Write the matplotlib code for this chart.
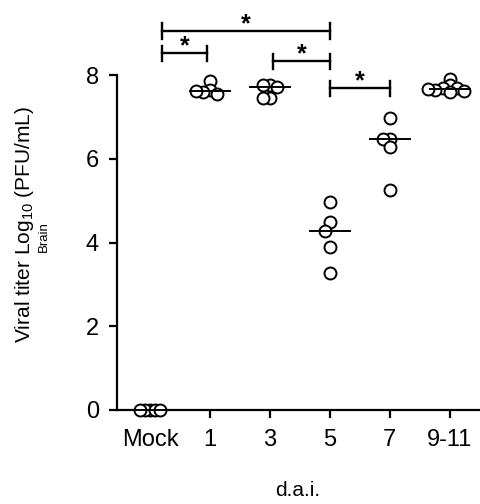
import numpy as np
import matplotlib
matplotlib.use("Agg")
import matplotlib.pyplot as plt

plt.rcParams['font.family'] = ['Liberation Sans', 'DejaVu Sans']
plt.rcParams['mathtext.fontset'] = 'custom'
plt.rcParams['mathtext.rm'] = 'Liberation Sans'
plt.rcParams['mathtext.it'] = 'Liberation Sans:italic'

groups = ['Mock', '1', '3', '5', '7', '9-11']
mock = [0, 0, 0, 0, 0]
day1 = [7.85, 7.65, 7.6, 7.55, 7.62]
day3 = [7.75, 7.75, 7.72, 7.45, 7.45]
day5 = [4.96, 4.49, 4.27, 3.89, 3.27]
day7 = [6.97, 6.47, 6.47, 6.28, 5.25]
day9 = [7.9, 7.75, 7.7, 7.68, 7.65, 7.6, 7.62, 7.66]
values = [mock, day1, day3, day5, day7, day9]

# significance brackets: (left group, right group, level)
brackets = [(0, 1, 8.52), (0, 3, 9.05), (2, 3, 8.33), (3, 4, 7.68)]

PX_X = 60.0   # pixels per x unit
PX_Y = 41.9   # pixels per y unit


def swarm(vals, dmin, step=0.04):
    placed = []
    for v in vals:
        k = 0
        while True:
            off = ((k + 1) // 2) * step * (-1 if k % 2 else 1) if k else 0.0
            ok = all(np.hypot((off - o) * PX_X, (v - w) * PX_Y) >= dmin for o, w in placed)
            if ok:
                break
            k += 1
        placed.append((off, v))
    return [p[0] for p in placed]


fig = plt.figure(figsize=(4.81, 5.04), dpi=100)
ax = fig.add_axes([117 / 481, 94 / 504, 364 / 481, 335 / 504])

spacing = [4, 7, 7, 10, 7, 6]
for i, vals in enumerate(values):
    offs = swarm(vals, spacing[i])
    ax.plot(np.array(offs) + i, vals, 'o', ms=8.6, mfc='white', mec='black',
            mew=1.4, clip_on=False, zorder=3)
    med = np.median(vals)
    ax.plot([i - 0.33, i + 0.33], [med, med], color='black', lw=1.4,
            clip_on=False, zorder=4)

cap = 0.18
for a, b, y in brackets:
    xa = a + 0.2 if a == 0 else a + 0.05 if a == 2 else a
    xb = b - 0.05 if a == 0 and b == 1 else b
    ax.plot([xa, xb], [y, y], color='black', lw=1.7, clip_on=False)
    for x in (xa, xb):
        ax.plot([x, x], [y - cap, y + cap], color='black', lw=1.7, clip_on=False)
    ax.text((xa + xb) / 2, y, '*', ha='center', va='baseline',
            fontsize=18, fontweight='bold', clip_on=False)

ax.set_xlim(-0.55, 5.52)
ax.set_ylim(0, 8)
ax.set_yticks([0, 2, 4, 6, 8])
ax.set_xticks(range(len(groups)))
ax.set_xticklabels(groups)
ax.xaxis.get_major_ticks()[0].tick1line.set_visible(False)
for s in ('top', 'right'):
    ax.spines[s].set_visible(False)
for s in ('left', 'bottom'):
    ax.spines[s].set_linewidth(1.6)
ax.tick_params(axis='both', width=1.6, length=6, labelsize=17)
ax.tick_params(axis='x', pad=8)
ax.tick_params(axis='y', pad=7)

fig.text(25 / 481, 1 - 225 / 504, r'Viral titer Log$_{10}$ (PFU/mL)', rotation=90,
         ha='center', va='center', fontsize=15)
fig.text(44 / 481, 1 - 237 / 504, 'Brain', rotation=90, ha='center', va='center',
         fontsize=9.5)
fig.text(298 / 481, 1 - 490 / 504, 'd.a.i.', ha='center', va='center', fontsize=15)

fig.savefig('out.png', dpi=100)
